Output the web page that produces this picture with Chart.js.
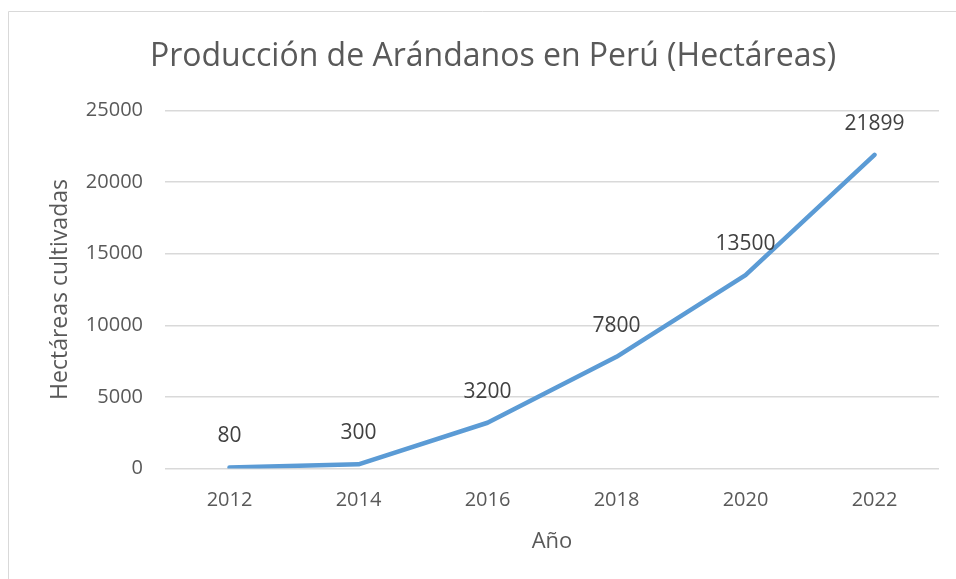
<!DOCTYPE html>
<html>
<head>
<meta charset="utf-8">
<script src="https://cdn.jsdelivr.net/npm/chart.js@4"></script>
<style>
  html, body { margin: 0; padding: 0; background: #fff; }
  #wrap { width: 956px; height: 579px; }
</style>
</head>
<body>
<div id="wrap"><canvas id="chart"></canvas></div>
<script>
// Data
const years = ['2012', '2014', '2016', '2018', '2020', '2022'];
const hectares = [80, 300, 3200, 7800, 13500, 21899];
const yTicks = [0, 5000, 10000, 15000, 20000, 25000];

const FONT = "'Open Sans', 'Noto Sans', sans-serif";
const PAD_LEFT = 47;

// draws the outer frame (left + top edge only visible)
const framePlugin = {
    id: 'frame',
    beforeDraw(chart) {
        const ctx = chart.ctx;
        ctx.save();
        ctx.strokeStyle = '#d9d9d9';
        ctx.lineWidth = 1;
        ctx.beginPath();
        ctx.moveTo(8.5, chart.height + 5);
        ctx.lineTo(8.5, 11.5);
        ctx.lineTo(chart.width + 5, 11.5);
        ctx.stroke();
        ctx.restore();
    }
};

// value labels above each point
const labelPlugin = {
    id: 'pointLabels',
    afterDatasetsDraw(chart) {
        const ctx = chart.ctx;
        const meta = chart.getDatasetMeta(0);
        ctx.save();
        ctx.font = '21px ' + FONT;
        ctx.fillStyle = '#404040';
        ctx.textAlign = 'center';
        ctx.textBaseline = 'middle';
        meta.data.forEach(function(pt, i) {
            ctx.fillText(String(hectares[i]), pt.x, pt.y - 31);
        });
        ctx.restore();
    }
};

new Chart(document.getElementById('chart'), {
    type: 'line',
    data: {
        labels: years,
        datasets: [{
            data: hectares,
            borderColor: '#5b9bd5',
            borderWidth: 4.5,
            borderCapStyle: 'round',
            borderJoinStyle: 'round',
            pointRadius: 0,
            tension: 0,
            fill: false
        }]
    },
    options: {
        responsive: true,
        maintainAspectRatio: false,
        animation: false,
        layout: { padding: { left: PAD_LEFT, right: 17, top: 38, bottom: 24 } },
        plugins: {
            legend: { display: false },
            tooltip: { enabled: false },
            title: {
                display: true,
                text: 'Producción de Arándanos en Perú (Hectáreas)',
                color: '#595959',
                font: { family: FONT, size: 32, weight: 'normal' },
                padding: { top: 0, bottom: 34 }
            }
        },
        scales: {
            x: {
                offset: true,
                grid: { display: false, drawTicks: false },
                border: { display: false },
                ticks: {
                    color: '#595959',
                    font: { family: FONT, size: 20 },
                    padding: 20,
                    maxRotation: 0
                },
                title: {
                    display: true,
                    text: 'Año',
                    color: '#595959',
                    font: { family: FONT, size: 22 },
                    padding: { top: -4, bottom: 0 }
                }
            },
            y: {
                min: 0,
                max: 25000,
                afterBuildTicks: function(scale) {
                    scale.ticks = yTicks.map(function(v) { return { value: v }; });
                },
                afterFit: function(scale) {
                    scale.width = 165 - PAD_LEFT;
                },
                grid: { color: '#d9d9d9', lineWidth: 1.5, drawTicks: false },
                border: { display: false },
                ticks: {
                    color: '#595959',
                    font: { family: FONT, size: 20 },
                    padding: 22,
                    callback: function(v) { return String(v); }
                },
                title: {
                    display: true,
                    text: 'Hectáreas cultivadas',
                    color: '#595959',
                    font: { family: FONT, size: 23 },
                    padding: { top: 0, bottom: 0 }
                }
            }
        }
    },
    plugins: [framePlugin, labelPlugin]
});
</script>
</body>
</html>
